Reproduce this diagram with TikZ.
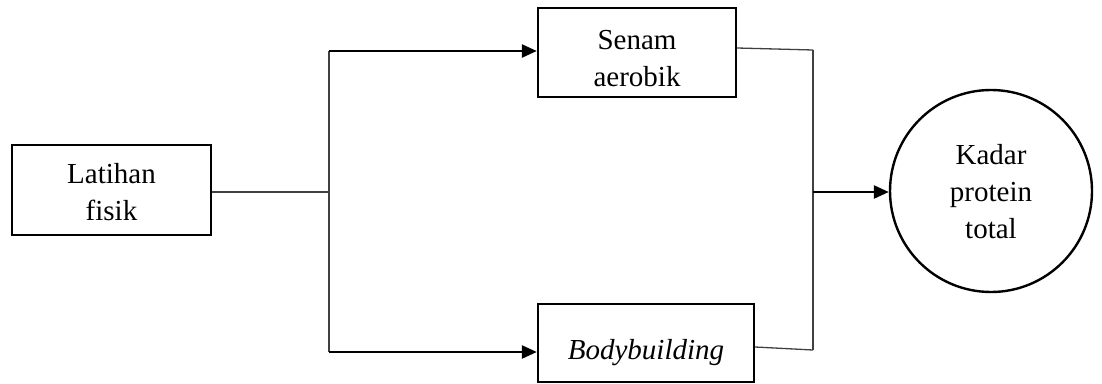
\documentclass[tikz,border=0pt]{standalone}
\usepackage{fontspec}
\setmainfont{Liberation Serif}
\usetikzlibrary{arrows.meta}
\begin{document}
\begin{tikzpicture}[x=1pt,y=-1pt,
  box/.style={draw,line width=2.4pt,rectangle,inner sep=0pt},
  ball/.style={draw,line width=2.4pt,circle,inner sep=0pt},
  txt/.style={inner sep=0pt,align=center,font=\fontsize{29}{37}\selectfont},
  thin/.style={line width=1.3pt,black!75},
  feed/.style={line width=2.6pt,-{Triangle[length=15pt,width=13pt]}}]
\useasboundingbox (0,0) rectangle (1102,383);
% boxes and the outcome circle
\node[box,minimum width=199pt,minimum height=90pt] (lat) at (111.5,190) {};
\node[box,minimum width=198pt,minimum height=89pt] (sen) at (637,52.5) {};
\node[box,minimum width=216pt,minimum height=78pt] (bod) at (646,343) {};
\node[ball,minimum size=202pt] (kad) at (991,191) {};
% their texts, set a little below centre
\node[txt] (latT) at ([yshift=-2pt]lat.center) {Latihan\\fisik};
\node[txt] (senT) at ([yshift=-6pt]sen.center) {Senam\\aerobik};
\node[txt] (bodT) at ([yshift=-10pt]bod.center) {\itshape Bodybuilding};
\node[txt] (kadT) at ([yshift=-1pt]kad.center) {Kadar\\protein\\total};
% branching points
\coordinate (sp) at (329,192);
\coordinate (spt) at (329,51);
\coordinate (spb) at (329,352);
\coordinate (mgt) at (813,50);
\coordinate (mgm) at (813,192);
\coordinate (mgb) at (813,350);
% split from the exercise box
\draw[thin] (lat.east |- sp) -- (sp);
\draw[thin] (spt) -- (spb);
\draw[feed] (spt) -- (sen.west |- spt);
\draw[feed] (spb) -- (bod.west |- spb);
% merge into the outcome
\draw[thin] (sen.east |- 0,48) -- (mgt);
\draw[thin] (bod.east |- 0,347) -- (mgb);
\draw[thin] (mgt) -- (mgb);
\draw[feed] (mgm) -- (kad.west |- mgm);
\end{tikzpicture}
\end{document}
